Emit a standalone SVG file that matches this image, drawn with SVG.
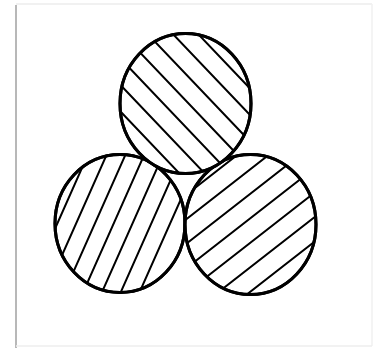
<svg xmlns="http://www.w3.org/2000/svg" width="375" height="348" viewBox="0 0 375 348">
<style>
.ring{fill:#fff;stroke:#000;stroke-width:3}
.ring-o{fill:none;stroke:#000;stroke-width:3}
.hl line{stroke:#000;stroke-width:2;stroke-linecap:round}
</style>
<defs>
<clipPath id="cTop"><ellipse cx="185.5" cy="103.5" rx="65.5" ry="70"/></clipPath>
<clipPath id="cLeft"><ellipse cx="120" cy="223.5" rx="65" ry="69"/></clipPath>
<clipPath id="cRight"><ellipse cx="250.5" cy="224.5" rx="65.5" ry="70"/></clipPath>
</defs>
<rect x="0" y="0" width="375" height="348" fill="#fff"/>
<g id="frame">
<line x1="16" y1="5" x2="16" y2="348" stroke="#b8b8b8" stroke-width="2"/>
<line x1="16" y1="4" x2="372" y2="4" stroke="#ececec" stroke-width="1.5"/>
<line x1="372" y1="4" x2="372" y2="346" stroke="#f0f0f0" stroke-width="1.5"/>
<line x1="16" y1="346" x2="372" y2="346" stroke="#eeeeee" stroke-width="1.5"/>
</g>
<g id="circle-left">
<ellipse class="ring" cx="120" cy="223.5" rx="65" ry="69"/>
<g class="hl" clip-path="url(#cLeft)">
<line x1="89.96" y1="150" x2="23.3" y2="300"/>
<line x1="108.76" y1="150" x2="42.1" y2="300"/>
<line x1="127.56" y1="150" x2="60.9" y2="300"/>
<line x1="146.36" y1="150" x2="79.7" y2="300"/>
<line x1="165.16" y1="150" x2="98.5" y2="300"/>
<line x1="183.96" y1="150" x2="117.3" y2="300"/>
<line x1="202.76" y1="150" x2="136.1" y2="300"/>
</g>
<ellipse class="ring-o" cx="120" cy="223.5" rx="65" ry="69"/>
</g>
<g id="circle-right">
<ellipse class="ring" cx="250.5" cy="224.5" rx="65.5" ry="70"/>
<g class="hl" clip-path="url(#cRight)">
<line x1="180" y1="199.6" x2="320" y2="90.4"/>
<line x1="180" y1="224.1" x2="320" y2="114.9"/>
<line x1="180" y1="248.6" x2="320" y2="139.4"/>
<line x1="180" y1="273.1" x2="320" y2="163.9"/>
<line x1="180" y1="297.6" x2="320" y2="188.4"/>
<line x1="180" y1="322.1" x2="320" y2="212.9"/>
<line x1="180" y1="346.6" x2="320" y2="237.4"/>
</g>
<ellipse class="ring-o" cx="250.5" cy="224.5" rx="65.5" ry="70"/>
</g>
<g id="circle-top">
<ellipse class="ring" cx="185.5" cy="103.5" rx="65.5" ry="70"/>
<g class="hl" clip-path="url(#cTop)">
<line x1="115" y1="-53.25" x2="256" y2="94.8"/>
<line x1="115" y1="-26.75" x2="256" y2="121.3"/>
<line x1="115" y1="-0.25" x2="256" y2="147.8"/>
<line x1="115" y1="26.25" x2="256" y2="174.3"/>
<line x1="115" y1="52.75" x2="256" y2="200.8"/>
<line x1="115" y1="79.25" x2="256" y2="227.3"/>
<line x1="115" y1="105.75" x2="256" y2="253.8"/>
</g>
<ellipse class="ring-o" cx="185.5" cy="103.5" rx="65.5" ry="70"/>
</g>
</svg>
